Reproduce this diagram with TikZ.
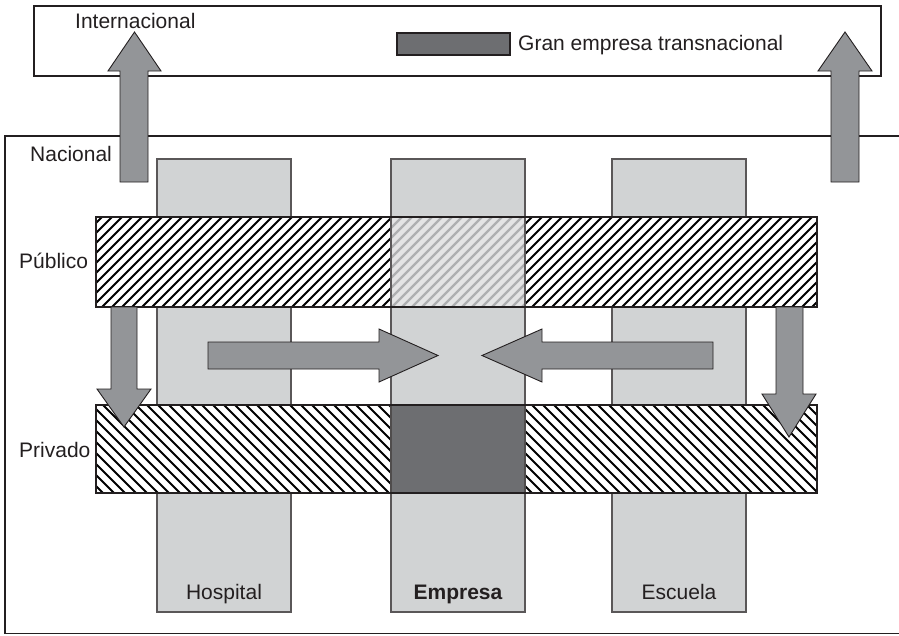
\documentclass[tikz,border=0pt]{standalone}
\usepackage{fontspec}
\setmainfont{Liberation Sans}
\definecolor{colgray}{HTML}{D1D3D4}
\definecolor{arrgray}{HTML}{939598}
\definecolor{darkg}{HTML}{6D6E71}
\definecolor{ink}{HTML}{231F20}
\definecolor{midfill}{HTML}{E4E4E5}
\definecolor{midline}{HTML}{AEAFB1}
\begin{document}
\begin{tikzpicture}[x=1pt,y=-1pt,
  column/.style={fill=colgray, draw=ink!75, line width=1.1},
  bigarrow/.style={fill=arrgray, draw=ink, line width=0.9, line join=miter},
  lbl/.style={inner sep=0pt, text=ink, font=\fontsize{21}{25}\selectfont},
  hatchA/.style={draw=black, line width=2.0},
  hatchB/.style={draw=black, line width=1.8},
  hatchM/.style={draw=midline, line width=2.4},
  frame/.style={draw=ink, line width=1.1}]
\useasboundingbox (0,0) rectangle (899,635);

% Internacional box
\draw[frame] (34,6) rectangle (881,76);
% Nacional frame (open to the right)
\draw[frame] (899,136) -- (5,136) -- (5,633.5) -- (899,633.5);

% columns
\draw[column] (157,159) rectangle (291,612);
\draw[column] (391,159) rectangle (525,612);
\draw[column] (612,159) rectangle (746,612);

% Publico bar hatching
\begin{scope}
  \clip (96,217) rectangle (817,307);
  \fill[white] (96,217) rectangle (817,307);
  \foreach \i in {0,...,82} \draw[hatchA] ({2+10*\i},307) -- ++(90,-90);
\end{scope}
% middle section (faded)
\begin{scope}
  \clip (391,217) rectangle (525,307);
  \fill[midfill] (391,217) rectangle (525,307);
  \foreach \i in {0,...,24} \draw[hatchM] ({292+10*\i},307) -- ++(90,-90);
\end{scope}
\draw[ink!75, line width=1.1] (391,217) -- (391,307) (525,217) -- (525,307);
\draw[draw=ink, line width=2.2] (96,217) rectangle (817,307);

% Privado bar hatching
\begin{scope}
  \clip (96,405) rectangle (817,493);
  \fill[white] (96,405) rectangle (817,493);
  \foreach \i in {0,...,75} \draw[hatchB] ({4+11*\i},405) -- ++(88,88);
\end{scope}
\fill[darkg] (391,405) rectangle (525,493);
\draw[ink!80, line width=1.1] (391,405) -- (391,493) (525,405) -- (525,493);
\draw[draw=ink, line width=1.3] (96,405) rectangle (817,493);

% arrows
\draw[bigarrow] (111,307) -- (137,307) -- (137,389) -- (151,389) -- (124,427) -- (97,389) -- (111,389) -- cycle;
\draw[bigarrow] (776,307) -- (803,307) -- (803,394) -- (816,394) -- (789,437) -- (762,394) -- (776,394) -- cycle;
\draw[bigarrow] (208,342) -- (379,342) -- (379,329) -- (438,355.5) -- (379,382) -- (379,369) -- (208,369) -- cycle;
\draw[bigarrow] (713,342) -- (542,342) -- (542,329) -- (482,355.5) -- (542,382) -- (542,369) -- (713,369) -- cycle;
\draw[bigarrow] (120,182) -- (120,71) -- (108,71) -- (134.5,32) -- (161,71) -- (148,71) -- (148,182) -- cycle;
\draw[bigarrow] (831,182) -- (831,71) -- (818,71) -- (845,32) -- (872,71) -- (859,71) -- (859,182) -- cycle;

% legend
\draw[fill=darkg, draw=ink, line width=1.1] (397,33) rectangle (510,55);

% labels
\node[lbl, anchor=base west] (intl) at (75,28) {Internacional};
\node[lbl, anchor=base west] (legend) at (518,50) {Gran empresa transnacional};
\node[lbl, anchor=base west] (nac) at (30,161) {Nacional};
\node[lbl, anchor=base west] (pub) at (19,268) {Público};
\node[lbl, anchor=base west] (priv) at (19,457) {Privado};
\node[lbl, anchor=base] (hosp) at (224,599) {Hospital};
\node[lbl, anchor=base, font=\fontsize{21}{25}\selectfont\bfseries] (emp) at (458,599) {Empresa};
\node[lbl, anchor=base] (esc) at (679,599) {Escuela};
\end{tikzpicture}
\end{document}
